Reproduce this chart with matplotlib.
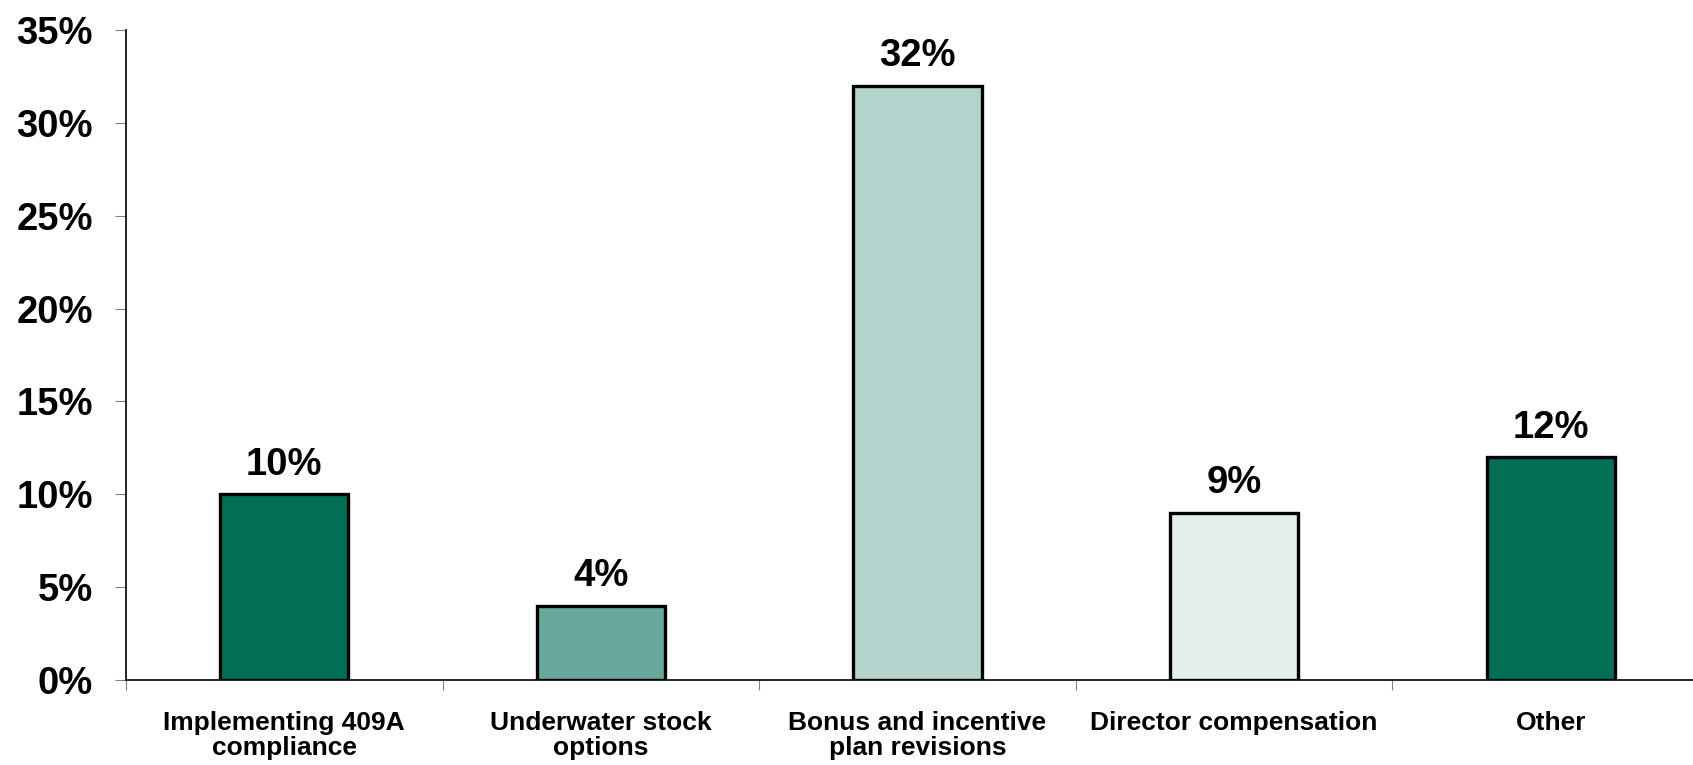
import numpy as np
import matplotlib.pyplot as plt
from matplotlib.ticker import FixedLocator, PercentFormatter

plt.rcParams['font.family'] = ['Liberation Sans', 'DejaVu Sans']
plt.rcParams['font.weight'] = 'bold'

# survey results
categories = ['Implementing 409A\ncompliance', 'Underwater stock\noptions',
              'Bonus and incentive\nplan revisions', 'Director compensation', 'Other']
shares = [10, 4, 32, 9, 12]
bar_colors = ['#006f55', '#67a89a', '#b2d4cc', '#e4eeeb', '#006f55']

fig = plt.figure(figsize=(16.93, 7.65), dpi=100)
# axes runs a little past the right edge of the canvas
ax = fig.add_axes([126 / 1693, 85 / 765, 1583 / 1693, 650 / 765])

x = np.arange(len(categories))
ax.bar(x, shares, width=0.405, color=bar_colors, edgecolor='black', linewidth=2.4, zorder=3)

for xi, v in zip(x, shares):
    ax.annotate(f'{v}%', (xi, v), xytext=(0, 14), textcoords='offset points',
                ha='center', va='baseline', fontsize=27.5, fontweight='bold')

ax.set_xlim(-0.5, len(categories) - 0.5)
ax.set_ylim(0, 35)
ax.set_yticks(np.arange(0, 36, 5))
ax.yaxis.set_major_formatter(PercentFormatter(decimals=0))

ax.set_xticks(x)
ax.set_xticklabels(categories, fontsize=19, fontweight='bold', linespacing=1.05)
ax.xaxis.set_minor_locator(FixedLocator(np.arange(-0.5, len(categories), 1.0)))
ax.tick_params(axis='x', which='major', length=0, pad=22)
ax.tick_params(axis='x', which='minor', length=7, width=0.8, color='#808080', direction='out')
ax.tick_params(axis='y', labelsize=27.5, length=8, width=0.8, color='#808080', pad=16)
for lbl in ax.get_yticklabels():
    lbl.set_fontweight('bold')

for side in ('top', 'right'):
    ax.spines[side].set_visible(False)
for side in ('left', 'bottom'):
    ax.spines[side].set_linewidth(1.2)
    ax.spines[side].set_color('black')

fig.savefig('out.png', dpi=100)
